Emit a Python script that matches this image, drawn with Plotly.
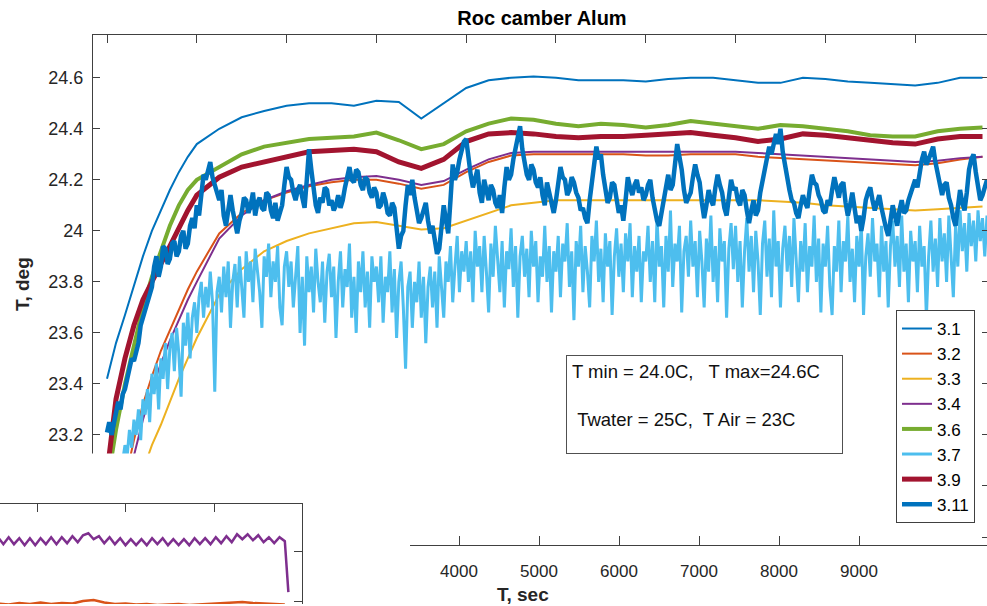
import plotly.graph_objects as go

W, H = 987, 606
FONT = "Liberation Sans"
AX = "#404040"
TXT = "#262626"

# ---------------- data ----------------
series_names = ["3.1", "3.2", "3.3", "3.4", "3.6", "3.7", "3.9", "3.11"]
series_colors = ["#0072BD", "#D95319", "#EDB120", "#7E2F8E", "#77AC30", "#4DBEEE", "#A2142F", "#0072BD"]
series_widths = [2, 2, 2, 2, 4, 3, 5, 4.5]

# time grids (s)
t_smooth = list(range(0, 1000, 100)) + list(range(1000, 10000, 250))
t_noisy = list(range(0, 9801, 25))

s31 = [23.42, 23.56, 23.67, 23.79, 23.90, 24.00, 24.08, 24.16, 24.23, 24.29,
       24.34, 24.40, 24.445, 24.47, 24.49, 24.50, 24.50, 24.49, 24.51, 24.505,
       24.44, 24.50, 24.56, 24.59, 24.60, 24.605, 24.60, 24.59, 24.59, 24.59,
       24.585, 24.595, 24.60, 24.60, 24.59, 24.58, 24.58, 24.60, 24.595, 24.585,
       24.58, 24.575, 24.57, 24.58, 24.60, 24.60]
s32 = [22.65, 22.85, 23.02, 23.18, 23.32, 23.43, 23.53, 23.61, 23.69, 23.77,
       23.84, 23.99, 24.07, 24.12, 24.15, 24.175, 24.19, 24.20, 24.20, 24.185,
       24.165, 24.18, 24.23, 24.27, 24.295, 24.30, 24.30, 24.30, 24.30, 24.30,
       24.295, 24.295, 24.30, 24.30, 24.30, 24.29, 24.285, 24.28, 24.275, 24.27,
       24.265, 24.26, 24.257, 24.265, 24.28, 24.29]
s33 = [22.40, 22.60, 22.78, 22.93, 23.06, 23.16, 23.24, 23.33, 23.42, 23.50,
       23.58, 23.75, 23.85, 23.92, 23.96, 23.99, 24.01, 24.03, 24.035, 24.02,
       24.005, 24.01, 24.04, 24.07, 24.10, 24.11, 24.12, 24.12, 24.12, 24.12,
       24.12, 24.12, 24.12, 24.12, 24.12, 24.12, 24.115, 24.11, 24.10, 24.095,
       24.09, 24.085, 24.08, 24.085, 24.09, 24.095]
s34 = [22.55, 22.78, 22.96, 23.12, 23.26, 23.38, 23.48, 23.57, 23.65, 23.73,
       23.80, 23.97, 24.06, 24.12, 24.155, 24.18, 24.20, 24.21, 24.215, 24.20,
       24.18, 24.195, 24.24, 24.28, 24.305, 24.31, 24.31, 24.31, 24.31, 24.31,
       24.31, 24.31, 24.31, 24.31, 24.31, 24.305, 24.30, 24.295, 24.29, 24.285,
       24.28, 24.275, 24.27, 24.275, 24.285, 24.29]
s36 = [23.00, 23.22, 23.40, 23.55, 23.70, 23.82, 23.92, 24.02, 24.10, 24.16,
       24.20, 24.25, 24.30, 24.33, 24.345, 24.36, 24.365, 24.37, 24.385, 24.355,
       24.32, 24.34, 24.39, 24.42, 24.44, 24.435, 24.42, 24.41, 24.42, 24.415,
       24.405, 24.415, 24.43, 24.42, 24.41, 24.40, 24.415, 24.41, 24.40, 24.39,
       24.375, 24.37, 24.37, 24.39, 24.40, 24.405]
s39 = [23.05, 23.34, 23.50, 23.63, 23.73, 23.80, 23.88, 23.95, 24.02, 24.08,
       24.14, 24.21, 24.25, 24.27, 24.29, 24.31, 24.315, 24.32, 24.31, 24.27,
       24.245, 24.28, 24.35, 24.38, 24.385, 24.38, 24.37, 24.365, 24.37, 24.37,
       24.375, 24.38, 24.385, 24.375, 24.365, 24.35, 24.36, 24.38, 24.375, 24.365,
       24.355, 24.345, 24.34, 24.36, 24.37, 24.37]

s37 = [22.90, 22.95, 23.00, 23.04, 23.08, 23.05, 23.12, 23.10, 23.16, 23.12,
       23.22, 23.15, 23.26, 23.20, 23.30, 23.18, 23.34, 23.28, 23.38, 23.25,
       23.44, 23.36, 23.48, 23.30, 23.50, 23.42, 23.56, 23.38, 23.54, 23.60,
       23.45, 23.62, 23.52, 23.35, 23.64, 23.55, 23.68, 23.50, 23.66, 23.72,
       23.60, 23.74, 23.80, 23.66, 23.78, 23.70, 23.84, 23.72, 23.37, 23.76,
       23.82, 23.68, 23.86, 23.74, 23.88, 23.62, 23.80, 23.87, 23.70, 23.90,
       23.78, 23.66, 23.92, 23.80, 23.88, 23.72, 23.93, 23.84, 23.76, 23.62,
       23.90, 23.82, 23.95, 23.74, 23.88, 23.80, 23.94, 23.70, 23.63, 23.86,
       23.92, 23.78, 23.88, 23.70, 23.84, 23.94, 23.60, 23.82, 23.55, 23.90,
       23.76, 23.86, 23.68, 23.93, 23.80, 23.72, 23.88, 23.64, 23.84, 23.91,
       23.74, 23.86, 23.58, 23.80, 23.92, 23.70, 23.85, 23.78, 23.95, 23.66,
       23.82, 23.60, 23.88, 23.76, 23.92, 23.70, 23.84, 23.62, 23.90, 23.80,
       23.86, 23.72, 23.90, 23.64, 23.82, 23.76, 23.92, 23.68, 23.85, 23.58,
       23.80, 23.88, 23.70, 23.46, 23.78, 23.84, 23.62, 23.80, 23.72, 23.88,
       23.66, 23.82, 23.56, 23.78, 23.86, 23.70, 23.84, 23.62, 23.90, 23.76,
       23.66, 23.88, 23.80, 23.94, 23.72, 23.86, 23.98, 23.76, 23.92, 23.84,
       23.96, 23.80, 23.92, 23.72, 24.00, 23.86, 23.94, 23.76, 23.98, 23.84,
       23.68, 23.95, 23.82, 24.02, 23.88, 23.76, 23.96, 23.70, 23.92, 23.85,
       24.01, 23.78, 23.94, 23.66, 23.90, 23.98, 23.82, 23.93, 23.74, 24.00,
       23.86, 23.96, 23.72, 23.90, 23.82, 24.02, 23.80, 23.94, 23.68, 23.92,
       23.84, 23.98, 23.74, 23.95, 23.88, 24.03, 23.78, 23.92, 23.65, 23.96,
       23.86, 24.02, 23.76, 23.94, 23.84, 23.70, 23.98, 23.88, 24.04, 23.80,
       23.93, 23.72, 23.99, 23.86, 23.96, 23.67, 23.90, 24.01, 23.82, 23.95,
       23.76, 23.99, 23.88, 24.03, 23.74, 23.94, 23.84, 23.98, 23.72, 23.92,
       23.88, 24.02, 23.80, 23.96, 23.72, 24.05, 23.86, 23.94, 23.70, 23.98,
       23.84, 24.08, 23.78, 23.95, 23.88, 24.02, 23.68, 23.92, 23.98, 23.82,
       24.04, 23.86, 23.96, 23.74, 24.00, 23.88, 23.70, 23.97, 23.84, 24.06,
       23.80, 23.94, 23.72, 24.01, 23.88, 23.96, 23.66, 23.93, 24.03, 23.85,
       24.02, 23.80, 23.96, 23.70, 23.92, 24.05, 23.84, 23.98, 23.76, 24.00,
       23.88, 23.67, 23.95, 24.04, 23.82, 23.97, 23.74, 24.08, 23.86, 23.96,
       23.70, 23.93, 24.02, 23.84, 23.98, 23.78, 24.05, 23.88, 23.72, 23.96,
       23.84, 24.03, 23.76, 23.94, 23.86, 24.06, 23.80, 23.97, 23.68, 23.95,
       23.86, 24.02, 23.78, 23.67, 23.94, 23.84, 24.04, 23.76, 23.96, 23.88,
       24.06, 23.80, 23.93, 23.72, 23.98, 23.86, 24.03, 23.67, 23.90, 23.99,
       23.82, 24.05, 23.88, 23.95, 23.74, 24.02, 23.84, 23.96, 23.70, 23.94,
       24.04, 23.86, 23.98, 23.78, 24.06, 23.84, 23.95, 23.72, 24.00, 23.88,
       23.96, 23.76, 24.02, 23.86, 23.94, 23.66, 23.90, 24.04, 23.84, 23.97,
       23.78, 24.05, 23.88, 23.99, 23.80, 24.06, 23.90, 23.74, 24.02, 23.86,
       24.08, 23.92, 24.03, 23.84, 24.07, 23.94, 24.04, 23.88, 24.08, 23.96,
       24.05, 23.90, 24.06]
s311 = [23.21, 23.25, 23.20, 23.24, 23.27, 23.33, 23.30, 23.36, 23.38, 23.42,
        23.44, 23.50, 23.49, 23.53, 23.56, 23.63, 23.66, 23.70, 23.72, 23.76,
        23.78, 23.86, 23.90, 23.82, 23.86, 23.94, 23.93, 23.87, 23.89, 23.95,
        23.96, 23.90, 23.92, 23.98, 24.00, 23.93, 23.95, 24.02, 24.05, 24.01,
        24.10, 24.06, 24.16, 24.22, 24.20, 24.24, 24.27, 24.21, 24.18, 24.14,
        24.12, 24.16, 24.06, 24.02, 24.10, 24.14, 24.08, 24.03, 23.99, 24.04,
        24.07, 24.13, 24.12, 24.07, 24.10, 24.15, 24.06, 24.11, 24.13, 24.09,
        24.08, 24.15, 24.14, 24.08, 24.05, 24.11, 24.04, 24.07, 24.10, 24.18,
        24.25, 24.21, 24.20, 24.15, 24.12, 24.16, 24.18, 24.13, 24.09, 24.20,
        24.32, 24.24, 24.15, 24.10, 24.07, 24.13, 24.11, 24.17, 24.16, 24.10,
        24.12, 24.08, 24.10, 24.14, 24.09, 24.12, 24.17, 24.22, 24.25, 24.20,
        24.19, 24.24, 24.23, 24.18, 24.16, 24.21, 24.20, 24.15, 24.13, 24.17,
        24.15, 24.09, 24.10, 24.15, 24.12, 24.07, 24.06, 24.11, 24.09, 24.01,
        23.93, 23.98, 24.00, 24.10, 24.18, 24.14, 24.20, 24.13, 24.08, 24.03,
        24.05, 24.09, 24.11, 24.04, 23.99, 24.02, 23.96, 23.91, 23.93, 24.02,
        24.10, 24.04, 23.99, 24.12, 24.26, 24.20, 24.23, 24.28, 24.31, 24.35,
        24.36, 24.28, 24.22, 24.17, 24.20, 24.24, 24.15, 24.11, 24.20, 24.16,
        24.12, 24.18, 24.16, 24.11, 24.09, 24.14, 24.07, 24.17, 24.25, 24.20,
        24.22, 24.28, 24.33, 24.37, 24.41, 24.32, 24.26, 24.22, 24.20, 24.26,
        24.24, 24.19, 24.17, 24.21, 24.14, 24.10, 24.19, 24.15, 24.11, 24.07,
        24.12, 24.18, 24.25, 24.21, 24.20, 24.14, 24.16, 24.21, 24.19, 24.15,
        24.13, 24.08, 24.09, 24.05, 24.03, 24.12, 24.20, 24.27, 24.33, 24.28,
        24.30, 24.22, 24.16, 24.11, 24.13, 24.19, 24.18, 24.12, 24.07, 24.10,
        24.04, 24.12, 24.21, 24.17, 24.14, 24.18, 24.20, 24.15, 24.17, 24.12,
        24.14, 24.18, 24.20, 24.13, 24.08, 24.04, 24.02, 24.08, 24.12, 24.17,
        24.22, 24.16, 24.18, 24.26, 24.34, 24.29, 24.24, 24.16, 24.11, 24.13,
        24.15, 24.21, 24.26, 24.22, 24.19, 24.11, 24.05, 24.10, 24.16, 24.12,
        24.10, 24.17, 24.22, 24.18, 24.15, 24.09, 24.06, 24.13, 24.20, 24.16,
        24.17, 24.12, 24.10, 24.16, 24.14, 24.08, 24.03, 24.08, 24.12, 24.06,
        24.08, 24.15, 24.20, 24.24, 24.28, 24.33, 24.30, 24.35, 24.38, 24.34,
        24.40, 24.31, 24.25, 24.19, 24.16, 24.12, 24.11, 24.07, 24.05, 24.10,
        24.14, 24.11, 24.09, 24.16, 24.22, 24.19, 24.18, 24.14, 24.12, 24.08,
        24.07, 24.12, 24.10, 24.16, 24.21, 24.17, 24.13, 24.18, 24.19, 24.11,
        24.06, 24.10, 24.15, 24.09, 24.03, 24.06, 24.00, 24.05, 24.12, 24.15,
        24.17, 24.12, 24.08, 24.11, 24.14, 24.09, 24.04, 24.01, 23.98, 24.04,
        24.10, 24.06, 24.02, 24.08, 24.12, 24.07, 24.08, 24.12, 24.15, 24.18,
        24.20, 24.17, 24.24, 24.28, 24.31, 24.26, 24.28, 24.31, 24.33, 24.27,
        24.22, 24.17, 24.14, 24.18, 24.19, 24.13, 24.10, 24.05, 24.02, 24.09,
        24.16, 24.11, 24.08, 24.15, 24.24, 24.28, 24.30, 24.23, 24.18, 24.12,
        24.14, 24.17, 24.20]

series_x = [t_smooth, t_smooth, t_smooth, t_smooth, t_smooth, t_noisy, t_smooth, t_noisy]
series_y = [s31, s32, s33, s34, s36, s37, s39, s311]

# main axes ticks
top_ticks = list(range(0, 10000, 1000))
y_ticks = [22.8, 23.0, 23.2, 23.4, 23.6, 23.8, 24.0, 24.2, 24.4, 24.6]
y_ticktext = ["22.8", "23", "23.2", "23.4", "23.6", "23.8", "24", "24.2", "24.4", "24.6"]
bottom_ticks = [4000, 5000, 6000, 7000, 8000, 9000]
bottom_ticktext = ["4000", "5000", "6000", "7000", "8000", "9000"]

# fragment of a second figure, lower left corner
inset_t = list(range(560, 3801, 60)) + [3840]
inset_purple = [24.64, 24.57, 24.64, 24.57, 24.63, 24.56, 24.63, 24.56, 24.63, 24.57,
                24.64, 24.57, 24.64, 24.58, 24.65, 24.59, 24.66, 24.68, 24.62, 24.65,
                24.58, 24.64, 24.57, 24.63, 24.56, 24.62, 24.56, 24.62, 24.56, 24.63,
                24.57, 24.63, 24.56, 24.62, 24.56, 24.62, 24.56, 24.63, 24.57, 24.63,
                24.57, 24.64, 24.58, 24.65, 24.59, 24.67, 24.62, 24.67, 24.61, 24.66,
                24.59, 24.64, 24.58, 24.64, 24.60, 24.09]
inset_t2 = list(range(560, 3801, 120))
inset_orange = [23.975, 23.965, 23.98, 23.97, 23.985, 23.97, 23.98, 23.975, 24.00, 24.01,
                23.985, 23.97, 23.975, 23.965, 23.97, 23.96, 23.965, 23.97, 23.96, 23.965,
                23.97, 23.975, 23.98, 23.99, 23.98, 23.975, 23.97, 23.965]
inset_xticks = [1000, 2000, 3000]
inset_yticks = [24.0, 24.5]

# ---------------- figure ----------------
fig = go.Figure()
for name, col, wid, xs, ys in zip(series_names, series_colors, series_widths, series_x, series_y):
    fig.add_trace(go.Scatter(x=xs, y=ys, mode="lines", name=name,
                             line=dict(color=col, width=wid)))

# empty traces so that the helper axes / panels are created
for xa, ya in [("x2", "y"), ("x", "y5"), ("x3", "y3")]:
    fig.add_trace(go.Scatter(x=[None], y=[None], mode="lines", showlegend=False,
                             hoverinfo="skip", xaxis=xa, yaxis=ya))

fig.add_trace(go.Scatter(x=inset_t2, y=inset_orange, mode="lines", showlegend=False,
                         line=dict(color="#D95319", width=2.5), xaxis="x4", yaxis="y4"))
fig.add_trace(go.Scatter(x=inset_t, y=inset_purple, mode="lines", showlegend=False,
                         line=dict(color="#7E2F8E", width=2.5), xaxis="x4", yaxis="y4"))

px_x = lambda p: p / W
px_y = lambda p: 1 - p / H

tickfont = dict(family=FONT, size=18, color=TXT)
common = dict(showgrid=False, zeroline=False, linecolor=AX, linewidth=1, tickcolor=AX)
blank = dict(showgrid=False, zeroline=False, showline=False, ticks="",
             showticklabels=False, range=[0, 1])

fig.update_layout(
    width=W, height=H,
    margin=dict(l=0, r=0, t=0, b=0),
    paper_bgcolor="white", plot_bgcolor="white",
    title=dict(text="<b>Roc camber Alum</b>", x=px_x(542), xanchor="center",
               y=px_y(18), yanchor="middle",
               font=dict(family=FONT, size=20, color="#000000")),
    xaxis=dict(domain=[px_x(93), 1.0], range=[-156, 9800], side="top", anchor="y",
               showline=True, ticks="inside", ticklen=8, tickvals=top_ticks,
               showticklabels=False, **common),
    xaxis2=dict(overlaying="x", side="bottom", anchor="y", range=[-575, 10600],
                showline=True, ticks="inside", ticklen=9, tickvals=bottom_ticks,
                ticktext=bottom_ticktext, ticklabelstandoff=10,
                tickfont=dict(family=FONT, size=17, color=TXT), **common),
    yaxis=dict(domain=[px_y(547), px_y(35)], range=[22.768, 24.768], anchor="x",
               showline=True, ticks="inside", ticklen=7, tickvals=y_ticks,
               ticktext=y_ticktext, tickfont=tickfont, ticklabelstandoff=5, **common),
    yaxis5=dict(overlaying="y", side="right", anchor="x", range=[22.768, 24.768],
                showline=False, ticks="inside", ticklen=5, tickvals=y_ticks,
                showticklabels=False, **common),
    # blank panel that covers the lower left corner
    xaxis3=dict(domain=[0, px_x(410)], anchor="y3", **blank),
    yaxis3=dict(domain=[0, 151 / H], anchor="x3", **blank),
    # fragment of the second figure
    xaxis4=dict(domain=[0, px_x(302)], anchor="y4", side="top", range=[582, 3994],
                showline=True, ticks="inside", ticklen=8, tickvals=inset_xticks,
                showticklabels=False, **common),
    yaxis4=dict(domain=[0, 100 / H], anchor="x4", side="right", range=[23.97, 24.97],
                showline=True, ticks="inside", ticklen=8, tickvals=inset_yticks,
                showticklabels=False, **common),
    legend=dict(x=px_x(896), y=px_y(311), xanchor="left", yanchor="top",
                bgcolor="white", bordercolor=AX, borderwidth=1,
                font=dict(family=FONT, size=17, color="#000000"),
                tracegroupgap=0),
    annotations=[
        dict(text="T min = 24.0C,&nbsp;&nbsp; T max=24.6C<br><br>&nbsp;Twater = 25C,&nbsp; T Air = 23C",
             xref="paper", yref="paper", x=px_x(566), y=px_y(356),
             xanchor="left", yanchor="top", showarrow=False, align="left", valign="top",
             width=265, height=87, borderpad=5, bordercolor="#505050", borderwidth=1,
             bgcolor="white", font=dict(family=FONT, size=18.5, color="#111111")),
        dict(text="<b>T, deg</b>", xref="paper", yref="paper", x=px_x(22), y=px_y(285),
             textangle=-90, showarrow=False, xanchor="center", yanchor="middle",
             font=dict(family=FONT, size=19, color=TXT)),
        dict(text="<b>T, sec</b>", xref="paper", yref="paper", x=px_x(523), y=px_y(596),
             showarrow=False, xanchor="center", yanchor="middle",
             font=dict(family=FONT, size=19, color=TXT)),
    ],
)

fig.write_html("out.html")
